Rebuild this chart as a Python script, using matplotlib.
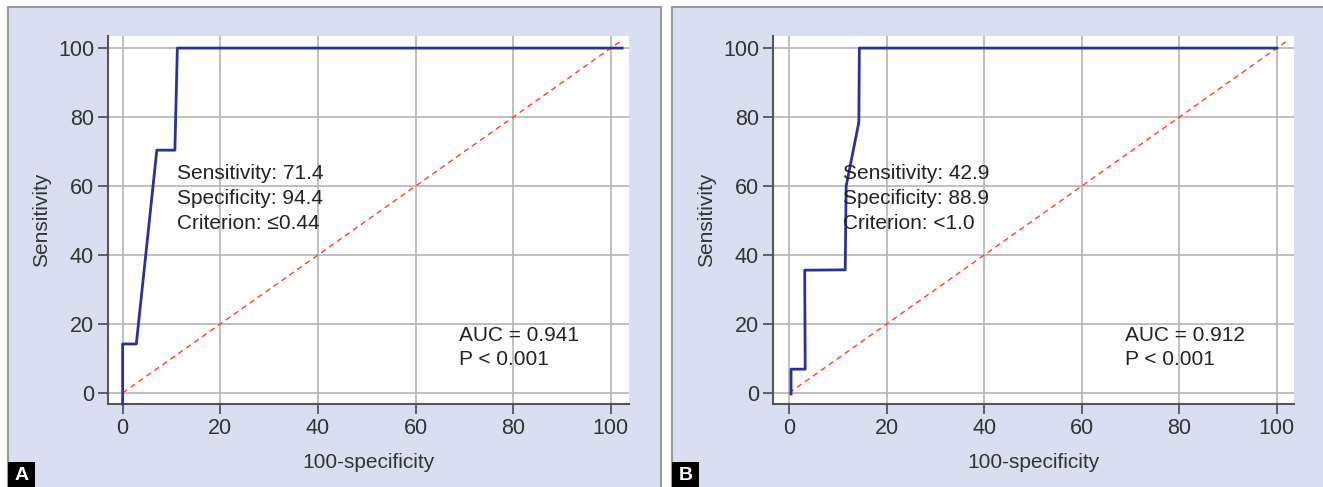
import matplotlib
matplotlib.use("Agg")
from matplotlib import pyplot as plt
from matplotlib.patches import Rectangle

# ROC curve A
roc_a_x = [0, 0, 2.8, 7.0, 10.7, 11.2, 102.3]
roc_a_y = [-3.2, 14.2, 14.2, 70.4, 70.4, 100, 100]
# ROC curve B
roc_b_x = [0.4, 0.4, 3.3, 3.2, 11.5, 11.7, 14.3, 14.4, 100]
roc_b_y = [-0.3, 6.9, 6.9, 35.6, 35.7, 60, 78.5, 100, 100]

diag_a = [0, 102]
diag_b = [0, 102]

ticks = [0, 20, 40, 60, 80, 100]
texts_a = "Sensitivity: 71.4\nSpecificity: 94.4\nCriterion: \u22640.44"
texts_b = "Sensitivity: 42.9\nSpecificity: 88.9\nCriterion: <1.0"
auc_a = "AUC = 0.941\nP < 0.001"
auc_b = "AUC = 0.912\nP < 0.001"
panel_names = ["A", "B"]

W, H = 1323, 487
plt.rcParams['font.family'] = ['Liberation Sans', 'DejaVu Sans']
fig = plt.figure(figsize=(W / 100, H / 100), dpi=100)
fig.patch.set_facecolor('white')

bg = '#dadef1'
frames = [(8, 661), (672, 1330)]
for (x0, x1), name in zip(frames, panel_names):
    # lavender panel with grey frame (bottom runs off the page)
    fig.patches.append(Rectangle((x0 / W, -20 / H), (x1 - x0) / W, (H - 7 + 20) / H,
                                 transform=fig.transFigure, facecolor=bg, edgecolor='#9a9a9a',
                                 linewidth=1.5, zorder=-2))
    fig.patches.append(Rectangle((x0 / W, 0), 27 / W, 25 / H, transform=fig.transFigure,
                                 facecolor='black', edgecolor='none', zorder=-1))
    fig.text((x0 + 13.5) / W, 12 / H, name, color='white', fontsize=14, weight='bold',
             ha='center', va='center')

axes_px = [(108, 629), (773, 1294)]
curves = [(roc_a_x, roc_a_y, diag_a, texts_a, auc_a), (roc_b_x, roc_b_y, diag_b, texts_b, auc_b)]
xlims = [(-3.0, 103.7), (-3.3, 103.5)]

for (l, r), (cx, cy, dg, txt, auc), xl in zip(axes_px, curves, xlims):
    ax = fig.add_axes([l / W, (H - 404) / H, (r - l) / W, (404 - 36) / H])
    ax.set_zorder(2)
    ax.set_facecolor('white')
    ax.plot(cx, cy, color='#2e3192', linewidth=2, zorder=3, clip_on=False)
    ax.plot(dg, dg, color='#ff3b30', linestyle=(0, (4, 3)), linewidth=1, zorder=2, clip_on=False)
    ax.set_xlim(*xl)
    ax.set_ylim(-3.2, 103.5)
    ax.set_xticks(ticks)
    ax.set_yticks(ticks)
    ax.grid(color='#b4b4b4', linewidth=1.2)
    ax.set_axisbelow(True)
    for s in ['top', 'right']:
        ax.spines[s].set_visible(False)
    for s in ['left', 'bottom']:
        ax.spines[s].set_color('#555555')
        ax.spines[s].set_linewidth(1.5)
    ax.tick_params(direction='out', length=7, width=1.3, color='#555555',
                   labelsize=15.5, labelcolor='#333333', pad=3)
    ax.set_xlabel('100-specificity', fontsize=15, color='#333333', labelpad=10)
    ax.set_ylabel('Sensitivity', fontsize=15, color='#333333', labelpad=5)
    ax.text(11.1, 66.3, txt, fontsize=15, color='#222222', va='top', ha='left',
            linespacing=1.38, zorder=4)
    ax.text(68.8, 19.5, auc, fontsize=15, color='#222222', va='top', ha='left',
            linespacing=1.38, zorder=4)

fig.savefig('out.png', dpi=100)
